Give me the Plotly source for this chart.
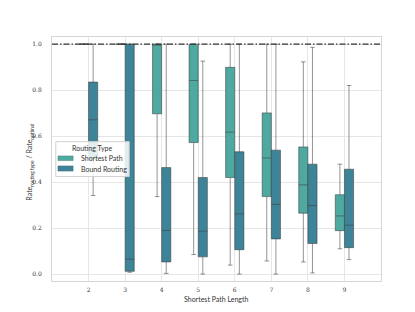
import plotly.graph_objects as go

lengths = [2, 3, 4, 5, 6, 7, 8, 9]

sp_lower = [1.0, 1.0, 0.337, 0.085, 0.039, 0.057, 0.053, 0.110]
sp_q1 = [1.0, 1.0, 0.697, 0.572, 0.420, 0.337, 0.265, 0.189]
sp_med = [1.0, 1.0, 1.0, 0.842, 0.617, 0.505, 0.388, 0.253]
sp_q3 = [1.0, 1.0, 1.0, 1.0, 0.899, 0.701, 0.553, 0.345]
sp_upper = [1.0, 1.0, 1.0, 1.0, 1.0, 1.0, 0.923, 0.478]

br_lower = [0.342, 0.008, 0.003, 0.0, 0.0, 0.0, 0.005, 0.063]
br_q1 = [0.50, 0.012, 0.053, 0.075, 0.106, 0.153, 0.133, 0.115]
br_med = [0.671, 0.065, 0.190, 0.187, 0.262, 0.303, 0.298, 0.213]
br_q3 = [0.835, 1.0, 0.463, 0.420, 0.532, 0.539, 0.478, 0.456]
br_upper = [1.0, 1.0, 1.0, 0.926, 1.0, 1.0, 0.986, 0.820]

series = [
    ("Shortest Path", "#4ea9a0", sp_lower, sp_q1, sp_med, sp_q3, sp_upper),
    ("Bound Routing", "#3e8499", br_lower, br_q1, br_med, br_q3, br_upper),
]

font_sans = "Lato, DejaVu Sans, sans-serif"
font_serif = "DejaVu Serif, Liberation Serif, serif"
txt = "#333333"

fig = go.Figure()
for name, color, lo, q1, med, q3, up in series:
    fig.add_trace(go.Box(
        name=name, x=lengths, lowerfence=lo, q1=q1, median=med, q3=q3, upperfence=up,
        fillcolor=color, line=dict(color="rgba(60,60,60,0.55)", width=1),
        whiskerwidth=0.5, boxpoints=False, offsetgroup=name, showlegend=False,
    ))

fig.add_shape(type="line", xref="paper", x0=0, x1=1, yref="y", y0=1.0, y1=1.0,
              line=dict(color="#333333", width=1.2, dash="6px,2px,1.5px,2px"), layer="above")

# legend (drawn manually to keep it compact)
fig.add_shape(type="rect", xref="paper", yref="paper", x0=0.0115, x1=0.2346, y0=0.428, y1=0.571,
              fillcolor="rgba(255,255,255,0.85)", line=dict(color="#d0d0d0", width=1), layer="above")
fig.add_annotation(xref="paper", yref="paper", x=0.123, y=0.545, text="Routing Type", showarrow=False,
                   xanchor="center", yanchor="middle", font=dict(size=7, family=font_sans, color=txt))
legend_rows = [(0.493, 0.513, 0.503), (0.450, 0.472, 0.461)]
for (name, color, *_), (y0, y1, yc) in zip(series, legend_rows):
    fig.add_shape(type="rect", xref="paper", yref="paper", x0=0.0178, x1=0.0645, y0=y0, y1=y1,
                  fillcolor=color, line=dict(color="rgba(60,60,60,0.4)", width=0.5), layer="above")
    fig.add_annotation(xref="paper", yref="paper", x=0.082, y=yc, text=name, showarrow=False,
                       xanchor="left", yanchor="middle", font=dict(size=7, family=font_sans, color=txt))

# axis titles
fig.add_annotation(xref="paper", yref="paper", x=0.5, y=-0.072, text="Shortest Path Length",
                   showarrow=False, xanchor="center", yanchor="middle",
                   font=dict(size=7, family=font_sans, color=txt))
fig.add_annotation(xref="paper", yref="paper", x=-0.0685, y=0.487,
                   text="Rate<sub>routing type</sub> / Rate<sub>optimal</sub>", textangle=-90,
                   showarrow=False, xanchor="center", yanchor="middle",
                   font=dict(size=7, family=font_sans, color=txt))

# page body has an 8px default margin: size/margins compensate so the plot area sits where the reference has it
fig.update_layout(
    width=407, height=304,
    margin=dict(l=44, r=34, t=29, b=31, autoexpand=False),
    paper_bgcolor="white", plot_bgcolor="white",
    boxmode="group", boxgap=0.5, boxgroupgap=0,
    showlegend=False,
    xaxis=dict(
        range=[1, 10], tickvals=lengths, ticktext=[str(v) for v in lengths],
        showgrid=True, gridcolor="#e6e6e6", gridwidth=1, automargin=False,
        showline=True, linecolor="#d6d6d6", mirror=True, zeroline=False,
        tickfont=dict(size=6, family=font_serif, color=txt), ticks="", ticklabelstandoff=3,
    ),
    yaxis=dict(
        range=[-0.03, 1.031], tickvals=[0, 0.2, 0.4, 0.6, 0.8, 1.0],
        ticktext=["0.0", "0.2", "0.4", "0.6", "0.8", "1.0"],
        showgrid=True, gridcolor="#e6e6e6", gridwidth=1, automargin=False,
        showline=True, linecolor="#d6d6d6", mirror=True, zeroline=False,
        tickfont=dict(size=6, family=font_serif, color=txt), ticks="", ticklabelstandoff=8,
    ),
)

fig.write_html("out.html")
